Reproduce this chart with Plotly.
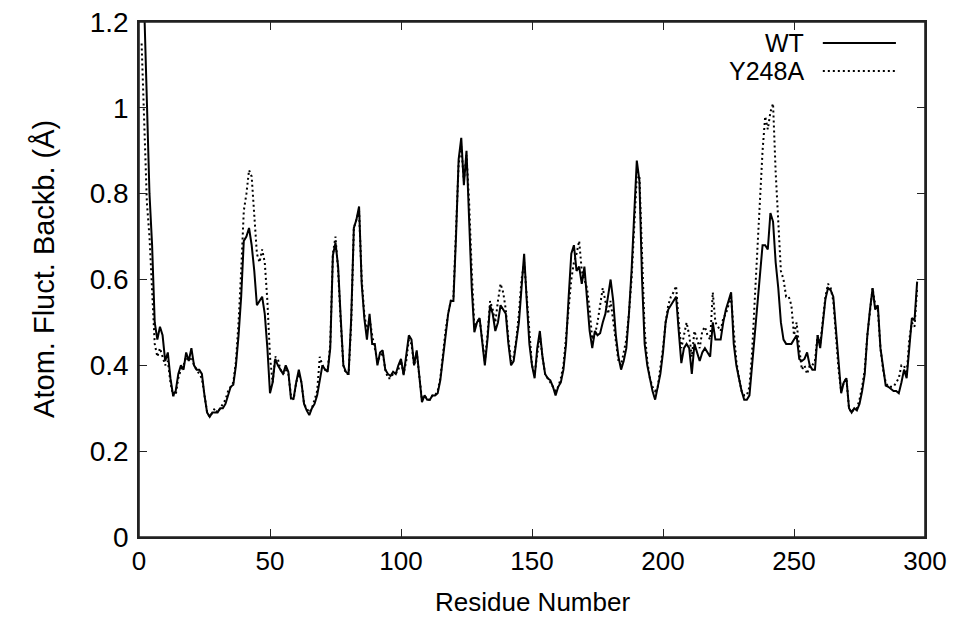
import plotly.graph_objects as go

# residue numbers 1..297
residues = list(range(1, 298))

wt = [
    1.45, 1.25, 1.00, 0.80, 0.68, 0.50, 0.46, 0.49, 0.47, 0.41,
    0.43, 0.37, 0.33, 0.34, 0.38, 0.40, 0.39, 0.43, 0.41, 0.44,
    0.40, 0.39, 0.39, 0.38, 0.33, 0.29, 0.28, 0.29, 0.29, 0.29,
    0.30, 0.30, 0.31, 0.33, 0.35, 0.355, 0.40, 0.47, 0.56, 0.69,
    0.70, 0.72, 0.68, 0.62, 0.54, 0.55, 0.56, 0.52, 0.44, 0.335,
    0.36, 0.415, 0.40, 0.39, 0.38, 0.40, 0.385, 0.323, 0.323, 0.36,
    0.39, 0.36, 0.31, 0.295, 0.284, 0.30, 0.31, 0.33, 0.37, 0.40,
    0.39, 0.385, 0.44, 0.656, 0.686, 0.63, 0.51, 0.40, 0.385, 0.38,
    0.51, 0.72, 0.74, 0.77, 0.59, 0.51, 0.46, 0.52, 0.45, 0.45,
    0.40, 0.43, 0.435, 0.39, 0.38, 0.375, 0.385, 0.38, 0.40, 0.415,
    0.377, 0.42, 0.47, 0.46, 0.40, 0.435, 0.37, 0.314, 0.33, 0.32,
    0.32, 0.33, 0.33, 0.335, 0.365, 0.42, 0.477, 0.52, 0.55, 0.55,
    0.70, 0.88, 0.93, 0.82, 0.90, 0.75, 0.58, 0.477, 0.50, 0.51,
    0.45, 0.40, 0.46, 0.54, 0.52, 0.48, 0.50, 0.54, 0.53, 0.52,
    0.45, 0.40, 0.41, 0.45, 0.50, 0.58, 0.66, 0.55, 0.45, 0.40,
    0.37, 0.44, 0.48, 0.42, 0.38, 0.37, 0.365, 0.35, 0.33, 0.35,
    0.36, 0.39, 0.45, 0.56, 0.66, 0.68, 0.62, 0.63, 0.59, 0.63,
    0.55, 0.48, 0.44, 0.48, 0.47, 0.475, 0.50, 0.52, 0.56, 0.60,
    0.55, 0.47, 0.42, 0.39, 0.41, 0.44, 0.52, 0.62, 0.75, 0.877,
    0.83, 0.60, 0.45, 0.40, 0.37, 0.34, 0.32, 0.35, 0.38, 0.43,
    0.50, 0.53, 0.54, 0.55, 0.56, 0.48, 0.405, 0.44, 0.45, 0.44,
    0.38, 0.45, 0.43, 0.41, 0.43, 0.44, 0.43, 0.42, 0.50, 0.46,
    0.46, 0.46, 0.50, 0.53, 0.55, 0.57, 0.45, 0.40, 0.37, 0.34,
    0.32, 0.32, 0.33, 0.40, 0.47, 0.547, 0.62, 0.68, 0.68, 0.67,
    0.755, 0.735, 0.64, 0.58, 0.50, 0.46, 0.45, 0.45, 0.45, 0.46,
    0.47, 0.415, 0.41, 0.415, 0.43, 0.40, 0.39, 0.39, 0.47, 0.44,
    0.50, 0.555, 0.58, 0.575, 0.56, 0.48, 0.40, 0.335, 0.36, 0.37,
    0.30, 0.29, 0.30, 0.295, 0.31, 0.34, 0.38, 0.47, 0.53, 0.58,
    0.53, 0.54, 0.44, 0.39, 0.353, 0.35, 0.345, 0.34, 0.34, 0.335,
    0.36, 0.39, 0.37, 0.45, 0.51, 0.505, 0.595,
]

y248a = [
    1.15, 0.95, 0.78, 0.70, 0.56, 0.45, 0.42, 0.44, 0.42, 0.40,
    0.41, 0.36, 0.33, 0.33, 0.37, 0.39, 0.40, 0.42, 0.41, 0.42,
    0.40, 0.39, 0.38, 0.37, 0.33, 0.29, 0.28, 0.29, 0.30, 0.29,
    0.30, 0.31, 0.32, 0.34, 0.35, 0.36, 0.41, 0.50, 0.62, 0.76,
    0.80, 0.855, 0.84, 0.75, 0.66, 0.64, 0.67, 0.64, 0.55, 0.42,
    0.36, 0.42, 0.415, 0.39, 0.38, 0.39, 0.38, 0.33, 0.32, 0.36,
    0.38, 0.36, 0.31, 0.30, 0.29, 0.30, 0.32, 0.34, 0.42, 0.40,
    0.39, 0.39, 0.45, 0.66, 0.70, 0.62, 0.50, 0.40, 0.38, 0.38,
    0.50, 0.72, 0.74, 0.76, 0.60, 0.52, 0.48, 0.51, 0.47, 0.44,
    0.41, 0.42, 0.43, 0.39, 0.37, 0.37, 0.38, 0.38, 0.39, 0.41,
    0.38, 0.41, 0.46, 0.45, 0.40, 0.43, 0.37, 0.32, 0.33, 0.32,
    0.32, 0.33, 0.33, 0.34, 0.37, 0.43, 0.48, 0.52, 0.55, 0.56,
    0.72, 0.87, 0.91, 0.83, 0.89, 0.78, 0.62, 0.49, 0.50, 0.51,
    0.46, 0.41, 0.47, 0.55, 0.53, 0.50, 0.55, 0.59, 0.57, 0.53,
    0.46, 0.41, 0.42, 0.46, 0.52, 0.60, 0.64, 0.56, 0.46, 0.40,
    0.38, 0.43, 0.47, 0.42, 0.38, 0.37, 0.36, 0.35, 0.34, 0.35,
    0.37, 0.40, 0.47, 0.52, 0.60, 0.64, 0.66, 0.69, 0.62, 0.60,
    0.58, 0.53, 0.46, 0.47, 0.50, 0.54, 0.58, 0.55, 0.52, 0.55,
    0.50, 0.45, 0.41, 0.40, 0.43, 0.46, 0.52, 0.60, 0.72, 0.84,
    0.84, 0.65, 0.48, 0.41, 0.37, 0.35, 0.34, 0.35, 0.39, 0.44,
    0.50, 0.54, 0.56, 0.57, 0.585, 0.50, 0.44, 0.47, 0.50, 0.47,
    0.42, 0.48, 0.46, 0.44, 0.48, 0.49, 0.47, 0.46, 0.57, 0.50,
    0.49, 0.48, 0.51, 0.52, 0.54, 0.56, 0.48, 0.41, 0.37, 0.34,
    0.33, 0.33, 0.35, 0.43, 0.55, 0.67, 0.80, 0.90, 0.98, 0.95,
    0.99, 1.01, 0.85, 0.73, 0.62, 0.60, 0.56, 0.56, 0.54, 0.47,
    0.50, 0.44, 0.39, 0.40, 0.38, 0.40, 0.40, 0.41, 0.47, 0.45,
    0.51, 0.56, 0.59, 0.58, 0.55, 0.47, 0.39, 0.34, 0.36, 0.37,
    0.30, 0.29, 0.30, 0.30, 0.32, 0.35, 0.39, 0.47, 0.53, 0.58,
    0.54, 0.53, 0.44, 0.39, 0.36, 0.35, 0.35, 0.35, 0.36, 0.37,
    0.40, 0.40, 0.38, 0.46, 0.50, 0.49, 0.58,
]

series_names = ['WT', 'Y248A']
series_dash = ['solid', '2px,3px']

x_ticks = [0, 50, 100, 150, 200, 250, 300]
y_ticks = [0, 0.2, 0.4, 0.6, 0.8, 1.0, 1.2]
y_tick_text = ['0', '0.2', '0.4', '0.6', '0.8', '1', '1.2']

x_title = 'Residue Number'
y_title = 'Atom. Fluct. Backb. (Å)'

font = 'Liberation Sans, Arial, sans-serif'

fig = go.Figure()
fig.add_trace(go.Scatter(x=residues, y=wt, name=series_names[0], mode='lines',
                         line=dict(color='black', width=2)))
fig.add_trace(go.Scatter(x=residues, y=y248a, name=series_names[1], mode='lines',
                         line=dict(color='black', width=2, dash=series_dash[1])))

# gnuplot-style key: text on the left, line sample on the right
for i, (name, dash) in enumerate(zip(series_names, series_dash)):
    yk = 0.959 - i * 0.054
    fig.add_annotation(xref='paper', yref='paper', x=0.848, y=yk, text=name,
                       showarrow=False, xanchor='right', yanchor='middle',
                       font=dict(family=font, size=25, color='black'))
    fig.add_shape(type='line', xref='paper', yref='paper', x0=0.870, x1=0.963,
                  y0=yk, y1=yk, line=dict(color='black', width=2, dash=dash))

# axis titles placed by hand (automargin is off)
fig.add_annotation(xref='paper', yref='paper', x=0.5, y=-0.126, text=x_title,
                   showarrow=False, xanchor='center', yanchor='middle',
                   font=dict(family=font, size=26, color='black'))
fig.add_annotation(xref='paper', yref='paper', x=-0.12, y=0.52, text=y_title,
                   showarrow=False, xanchor='center', yanchor='middle', textangle=-90,
                   font=dict(family=font, size=29, color='black'))

# frame around the plot area
fig.add_shape(type='rect', xref='paper', yref='paper', x0=0, x1=1, y0=0, y1=1,
              line=dict(color='#222', width=1.6), layer='above')

axis_common = dict(showline=True, linecolor='#222', linewidth=1.6, mirror='ticks',
                   ticks='inside', ticklen=8, tickwidth=1.2, tickcolor='#222',
                   showgrid=False, zeroline=False, ticklabeloverflow='allow',
                   automargin=False)

# page body has an 8px margin, so the figure is a bit smaller than the window
fig.update_layout(
    width=951, height=610,
    margin=dict(l=131, r=34, t=14, b=81),
    plot_bgcolor='white', paper_bgcolor='white',
    showlegend=False,
    xaxis=dict(range=[0, 300], tickmode='array', tickvals=x_ticks,
               tickfont=dict(family=font, size=26, color='black'),
               **axis_common),
    yaxis=dict(range=[0, 1.2], tickmode='array', tickvals=y_ticks, ticktext=y_tick_text,
               tickfont=dict(family=font, size=28, color='black'), ticklabelstandoff=3,
               **axis_common),
)

fig.write_html('out.html')
